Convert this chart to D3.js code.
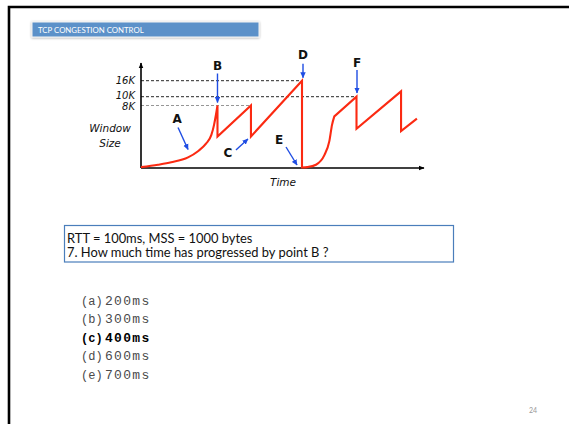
<!DOCTYPE html>
<html>
<head>
<meta charset="utf-8">
<script src="https://cdn.jsdelivr.net/npm/d3@7"></script>
<style>
  html, body { margin: 0; padding: 0; background: #fff; }
  svg { display: block; }
</style>
</head>
<body>
<svg id="slide" width="569" height="424"></svg>
<script>
// ---- Congestion window trace (time in ms, window in KB) ----
// slow start from the beginning up to B
const slowStart1Time = [0, 89, 158, 246, 298, 341, 368, 382, 392, 400];
const slowStart1Win  = [0.05, 0.36, 0.67, 1.3, 2.1, 3.1, 4.2, 5.5, 6.8, 8];
// fast recovery sawtooth from B up to D, then timeout to E
const sawtooth1Time = [400, 400, 575, 575, 842, 842];
const sawtooth1Win  = [8, 4, 8, 4, 16, 0];
// slow start after the timeout
const slowStart2Time = [842, 870, 915, 959, 985, 999, 1011];
const slowStart2Win  = [0, 0.05, 0.36, 1.6, 3.4, 5.5, 6.6];
// congestion avoidance through F and onward
const sawtooth2Time = [1011, 1127, 1127, 1360, 1360, 1443];
const sawtooth2Win  = [6.6, 10, 5, 12, 4.7, 6.3];

// window levels marked on the y axis and how far their guide runs
const levelValues = [16, 10, 8];
const levelLabels = ["16K", "10K", "8K"];
const levelGuideEnd = [842, 1127, 575];

// lettered points of interest (anchor on the trace)
const markLetters = ["A", "B", "C", "D", "E", "F"];
const markTime    = [246, 400, 575, 842, 842, 1127];
const markWin     = [1.3, 8, 4, 16, 0, 10];

// question text
const infoLines = ["RTT = 100ms, MSS = 1000 bytes", "7. How much time has progressed by point B ?"];
const choiceKeys = ["(a)", "(b)", "(c)", "(d)", "(e)"];
const choiceVals = ["200ms", "300ms", "400ms", "600ms", "700ms"];
const correctChoice = 2;
const slideTitle = "TCP CONGESTION CONTROL";
const pageNumber = "24";

// ---- layout ----
const svg = d3.select("#slide");

// slide frame (top and left rule)
svg.append("path")
  .attr("d", "M9,430 L9,7 L575,7")
  .attr("fill", "none").attr("stroke", "#000").attr("stroke-width", 2.6);

// title tab
const defs = svg.append("defs");
const shadow = defs.append("filter").attr("id", "tabShadow")
  .attr("x", "-10%").attr("y", "-40%").attr("width", "120%").attr("height", "180%");
shadow.append("feDropShadow").attr("dx", 0).attr("dy", 0.6)
  .attr("stdDeviation", 1.1).attr("flood-color", "#000").attr("flood-opacity", 0.35);

svg.append("rect")
  .attr("x", 32).attr("y", 22).attr("width", 227).attr("height", 15)
  .attr("fill", "#5b91c9").attr("stroke", "#f4f4f4").attr("stroke-width", 1)
  .attr("filter", "url(#tabShadow)");
svg.append("text")
  .attr("x", 38).attr("y", 32.6)
  .attr("font-family", "Lato, 'Open Sans', sans-serif").attr("font-size", 7.8)
  .attr("fill", "#fff").text(slideTitle);

// ---- chart scales ----
const x = d3.scaleLinear().domain([0, 1480]).range([141, 424]);
// schematic, non-uniform window axis
const y = d3.scaleLinear().domain([0, 8, 10, 16]).range([167.5, 105.5, 96.7, 80.7]);

const axisTop = 63;

defs.append("marker").attr("id", "axisHead")
  .attr("viewBox", "0 0 10 10").attr("refX", 9).attr("refY", 5)
  .attr("markerWidth", 6).attr("markerHeight", 6).attr("markerUnits", "userSpaceOnUse")
  .attr("orient", "auto")
  .append("path").attr("d", "M0,1 L10,5 L0,9 Z").attr("fill", "#000");

defs.append("marker").attr("id", "blueHead")
  .attr("viewBox", "0 0 10 10").attr("refX", 9).attr("refY", 5)
  .attr("markerWidth", 6).attr("markerHeight", 6).attr("markerUnits", "userSpaceOnUse")
  .attr("orient", "auto")
  .append("path").attr("d", "M0,0.5 L10,5 L0,9.5 Z").attr("fill", "#1f4de3");

// dashed guide lines for the marked levels
const guides = svg.append("g");
levelValues.forEach((v, i) => {
  guides.append("line")
    .attr("x1", x(0)).attr("x2", x(levelGuideEnd[i]))
    .attr("y1", y(v)).attr("y2", y(v))
    .attr("stroke", v === 8 ? "#8a8a8a" : "#111")
    .attr("stroke-width", 0.9)
    .attr("stroke-dasharray", "3,2");
});

// y-axis level labels (the two close levels are nudged apart)
const labelNudge = { 16: -0.5, 10: -1.6, 8: 0.4 };
const yAxis = d3.axisLeft(y)
  .tickValues(levelValues)
  .tickFormat((d, i) => levelLabels[i])
  .tickSize(0).tickPadding(6);
const yAxisG = svg.append("g").attr("transform", `translate(${x(0)},0)`).call(yAxis);
yAxisG.select(".domain").remove();
yAxisG.selectAll(".tick text")
  .attr("dy", d => (labelNudge[d] || 0) + 3.5)
  .attr("font-family", "'DejaVu Sans', Verdana, sans-serif")
  .attr("font-style", "italic").attr("font-size", 10).attr("fill", "#111");

// axes with arrow heads
svg.append("line")
  .attr("x1", x(0)).attr("y1", y(0) + 0.5).attr("x2", x(0)).attr("y2", axisTop)
  .attr("stroke", "#000").attr("stroke-width", 1.6).attr("marker-end", "url(#axisHead)");
svg.append("line")
  .attr("x1", x(0)).attr("y1", y(0) + 0.5).attr("x2", x.range()[1]).attr("y2", y(0) + 0.5)
  .attr("stroke", "#000").attr("stroke-width", 1.6).attr("marker-end", "url(#axisHead)");

// axis titles
const italic = "'DejaVu Sans', Verdana, sans-serif";
const yTitle = svg.append("text")
  .attr("text-anchor", "middle").attr("font-family", italic)
  .attr("font-style", "italic").attr("font-size", 10.5).attr("fill", "#111");
yTitle.append("tspan").attr("x", 110).attr("y", 132).text("Window");
yTitle.append("tspan").attr("x", 110).attr("y", 147).text("Size");
svg.append("text")
  .attr("x", (x(0) + x.range()[1]) / 2 + 0.5).attr("y", 186)
  .attr("text-anchor", "middle").attr("font-family", italic)
  .attr("font-style", "italic").attr("font-size", 10.5).attr("fill", "#111")
  .text("Time");

// ---- window trace ----
const zip = (ts, ws) => ts.map((t, i) => [t, ws[i]]);
const smooth = d3.line().x(d => x(d[0])).y(d => y(d[1])).curve(d3.curveMonotoneX);
const straight = d3.line().x(d => x(d[0])).y(d => y(d[1]));

const tracePath =
  smooth(zip(slowStart1Time, slowStart1Win)) +
  straight(zip(sawtooth1Time, sawtooth1Win)).replace(/^M/, "L") +
  smooth(zip(slowStart2Time, slowStart2Win)).replace(/^M/, "L") +
  straight(zip(sawtooth2Time, sawtooth2Win)).replace(/^M/, "L");

svg.append("path")
  .attr("d", tracePath)
  .attr("fill", "none").attr("stroke", "#fb2a12")
  .attr("stroke-width", 2.1).attr("stroke-linejoin", "miter");

// ---- lettered callouts ----
// offsets (px) from the anchor: arrow tip, arrow tail, letter centre
const callout = {
  A: { tip: [0, -8],    tail: [-10, -30],  text: [-11, -38] },
  B: { tip: [0, -3],    tail: [0, -32],    text: [0, -40] },
  C: { tip: [-3, 2.5],  tail: [-15, 13.5], text: [-23, 16.5] },
  D: { tip: [1, -3],    tail: [1, -17],    text: [1, -26] },
  E: { tip: [-5, -2.5], tail: [-16, -20.5], text: [-23, -27.5] },
  F: { tip: [0.5, -3.7], tail: [0.5, -26.7], text: [0.5, -33.7] }
};

markLetters.forEach((L, i) => {
  const ax = x(markTime[i]), ay = y(markWin[i]);
  const c = callout[L];
  svg.append("line")
    .attr("x1", ax + c.tail[0]).attr("y1", ay + c.tail[1])
    .attr("x2", ax + c.tip[0]).attr("y2", ay + c.tip[1])
    .attr("stroke", "#1f4de3").attr("stroke-width", 1.4)
    .attr("marker-end", "url(#blueHead)");
  svg.append("text")
    .attr("x", ax + c.text[0]).attr("y", ay + c.text[1])
    .attr("text-anchor", "middle").attr("dominant-baseline", "central")
    .attr("font-family", "'DejaVu Sans', Verdana, sans-serif")
    .attr("font-weight", "bold").attr("font-size", 12).attr("fill", "#111")
    .text(L);
});

// ---- question box ----
svg.append("rect")
  .attr("x", 64.5).attr("y", 225.5).attr("width", 389).attr("height", 36.5)
  .attr("fill", "#fff").attr("stroke", "#4a7ebb").attr("stroke-width", 1.2);
infoLines.forEach((t, i) => {
  svg.append("text")
    .attr("x", 67).attr("y", 243 + i * 14.4)
    .attr("font-family", "Lato, 'Open Sans', sans-serif").attr("font-size", 12.9)
    .attr("fill", "#111").text(t);
});

// ---- answer choices ----
choiceKeys.forEach((k, i) => {
  const bold = i === correctChoice;
  const t = svg.append("text")
    .attr("y", 305 + i * 18.4)
    .attr("font-family", "'Liberation Mono', 'Courier New', monospace")
    .attr("font-size", 13)
    .attr("font-weight", bold ? "bold" : "normal")
    .attr("fill", bold ? "#000" : "#4a4a4a");
  t.append("tspan").attr("x", 81).attr("font-size", 12).text(k);
  t.append("tspan").attr("x", 105).attr("letter-spacing", 1.3).text(choiceVals[i]);
});

// page number
svg.append("text")
  .attr("x", 533).attr("y", 413).attr("text-anchor", "middle")
  .attr("font-family", "Lato, 'Open Sans', sans-serif").attr("font-size", 7)
  .attr("fill", "#999").text(pageNumber);
</script>
</body>
</html>
